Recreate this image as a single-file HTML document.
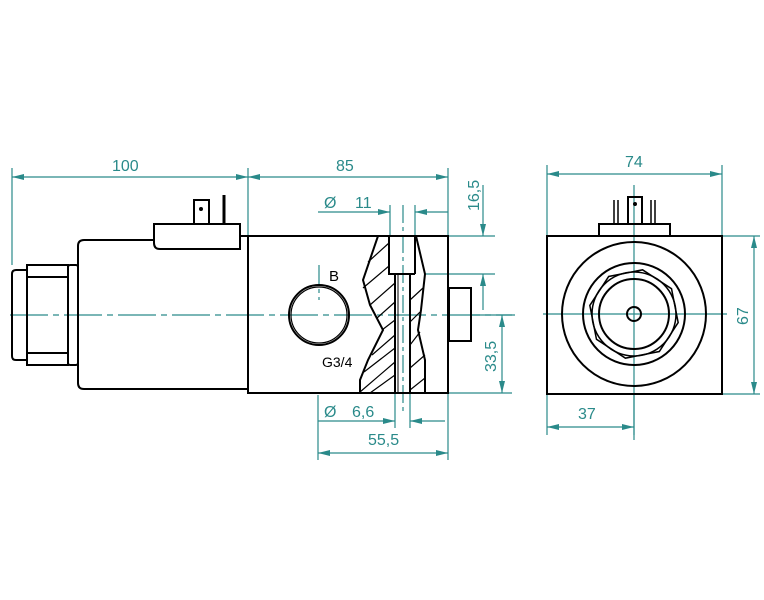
<!DOCTYPE html>
<html><head><meta charset="utf-8"><style>
html,body{margin:0;padding:0;background:#fff;}
svg{display:block;}
text{font-family:"Liberation Sans",sans-serif;fill:#2a8a8a;font-size:16px;}
</style></head><body>
<svg width="764" height="600" viewBox="0 0 764 600" xmlns="http://www.w3.org/2000/svg">
<defs>
<marker id="a" viewBox="0 0 12 6" refX="12" refY="3" markerWidth="12" markerHeight="6" orient="auto-start-reverse" markerUnits="userSpaceOnUse"><path d="M0,0 L12,3 L0,6 z" fill="#2a8a8a"/></marker>
</defs>
<g stroke="#2a8a8a" stroke-width="1.2" fill="none">
<!-- centerlines -->
<path d="M10,315 H515" stroke-dasharray="38,5,6,5"/>
<path d="M319,265 V300" stroke-dasharray="20,4,4,4"/>
<path d="M403,205 V412" stroke-dasharray="18,4,4,4"/>
<path d="M543,314 H727"/>
<path d="M634,185 V440"/>
<!-- extension lines -->
<path d="M12,168 V265 M248,168 V236 M448,168 V236 M547,165 V236 M722,165 V236"/>
<path d="M390,205 V236 M415,205 V236"/>
<path d="M448,236 H495 M425,274 H495 M471,315 H512 M448,393 H512 M722,236 H760 M722,394 H760"/>
<path d="M395,393 V428 M410,393 V428 M318,395 V460 M448,393 V460 M547,394 V435 M634,394 V435"/>
<!-- dims -->
<path d="M12,177 H248" marker-start="url(#a)" marker-end="url(#a)"/>
<path d="M248,177 H448" marker-start="url(#a)" marker-end="url(#a)"/>
<path d="M547,174 H722" marker-start="url(#a)" marker-end="url(#a)"/>
<path d="M318,212 H390" marker-end="url(#a)"/>
<path d="M448,212 H415" marker-end="url(#a)"/>
<path d="M483,185 V236" marker-end="url(#a)"/>
<path d="M483,310 V274" marker-end="url(#a)"/>
<path d="M502,315 V393" marker-start="url(#a)" marker-end="url(#a)"/>
<path d="M318,421 H395" marker-end="url(#a)"/>
<path d="M445,421 H410" marker-end="url(#a)"/>
<path d="M318,453 H448" marker-start="url(#a)" marker-end="url(#a)"/>
<path d="M754,236 V394" marker-start="url(#a)" marker-end="url(#a)"/>
<path d="M547,427 H634" marker-start="url(#a)" marker-end="url(#a)"/>
</g>
<g>
<text x="112" y="171">100</text>
<text x="336" y="171">85</text>
<text x="625" y="167">74</text>
<text x="324" y="208" font-size="19">Ø</text><text x="355" y="208">11</text>
<text x="324" y="417" font-size="19">Ø</text><text x="352" y="417">6,6</text>
<text x="368" y="445">55,5</text>
<text x="578" y="419">37</text>
<text transform="translate(479,211) rotate(-90)">16,5</text>
<text transform="translate(496,372) rotate(-90)">33,5</text>
<text transform="translate(748,325) rotate(-90)">67</text>
</g>
<g stroke="#000" stroke-width="2" fill="none">
<!-- coil left -->
<path d="M16,270 H27 V360 H16 Q12,360 12,356 V274 Q12,270 16,270 Z"/>
<rect x="27" y="265" width="41" height="100"/>
<path d="M27,277 H68 M27,353 H68"/>
<rect x="68" y="265" width="10" height="100" rx="2"/>
<path d="M84,240 H154 M248,389 H84 Q78,389 78,383 V246 Q78,240 84,240"/>
<path d="M154,224 H240 V249 H160 Q154,249 154,243 Z"/>
<rect x="194" y="200" width="15" height="24"/>
<path d="M224,195 V224" stroke-width="3"/>
<path d="M240,236 H248"/>
<!-- valve body -->
<rect x="248" y="236" width="200" height="157"/>
<circle cx="319" cy="315" r="30"/>
<circle cx="319" cy="315" r="28" stroke-width="1.2"/>
<path d="M378,236 L363,280 L370,305 L383,330 L368,360 L360,380 V393"/>
<path d="M416,236 L425,274 L421,310 L418,330 L425,360 V393"/>
<path d="M389,236 V274 H415 M415,236 V274"/>
<path d="M395,274 V393 M410,274 V393"/>
<path d="M398,274 V393" stroke-width="1"/>
<rect x="449" y="288" width="22" height="53"/>
<!-- hatch -->
<g stroke-width="1.2">
<path d="M368,262 L389,243 M363,288 L389,266 M370,305 L395,283 M377,318 L395,302 M382,330 L395,320 M372,355 L395,335 M364,372 L395,348 M360,392 L395,362 M370,393 L395,375"/>
<path d="M410,300 L423,288 M410,322 L420,312 M410,345 L420,332 M410,368 L425,355 M410,390 L425,378"/>
</g>
<!-- end view -->
<rect x="547" y="236" width="175" height="158"/>
<path d="M599,236 V224 H670 V236"/>
<rect x="628" y="197" width="14" height="27"/>
<path d="M614,200 V224 M618,200 V224 M651,200 V224 M655,200 V224" stroke-width="1.5"/>
<circle cx="634" cy="314" r="72"/>
<circle cx="634" cy="314" r="51"/>
<polygon points="679,314 666,346 634,359 602,346 589,314 602,282 634,269 666,282" transform="rotate(11 634 314)" stroke-width="1.5"/>
<circle cx="634" cy="314" r="42" stroke-width="1.5"/>
<circle cx="634" cy="314" r="35"/>
<circle cx="634" cy="314" r="7"/>
</g>
<circle cx="201" cy="209" r="2" fill="#000"/>
<circle cx="635" cy="204" r="2" fill="#000"/>
<text x="329" y="281" style="fill:#000;font-size:15px">B</text>
<text x="322" y="367" style="fill:#000;font-size:14px">G3/4</text>
</svg>
</body></html>
